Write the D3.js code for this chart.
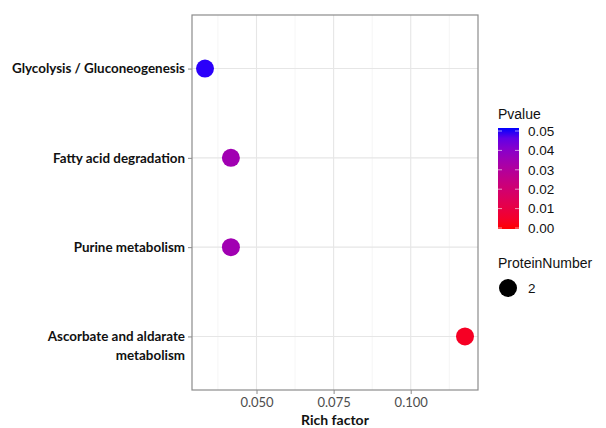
<!DOCTYPE html>
<html>
<head>
<meta charset="utf-8">
<script src="https://cdn.jsdelivr.net/npm/d3@7/dist/d3.min.js"></script>
<style>
  html, body { margin: 0; padding: 0; background: #fff; }
  svg { display: block; }
</style>
</head>
<body>
<svg id="chart" width="606" height="428"></svg>
<script>
// Enriched pathways: rich factor, p-value and protein count
const pathways = ["Glycolysis / Gluconeogenesis", "Fatty acid degradation", "Purine metabolism", "Ascorbate and aldarate metabolism"];
const richFactor = [0.0333, 0.0417, 0.0417, 0.1176];
const pValues = [0.049, 0.034, 0.034, 0.004];
const proteinNumber = [2, 2, 2, 2];
const xTicks = [0.050, 0.075, 0.100];
const xMinor = [0.0375, 0.0625, 0.0875, 0.1125];
const pTicks = [0.05, 0.04, 0.03, 0.02, 0.01, 0.00];

const svg = d3.select("#chart");
const panel = { left: 192, right: 478, top: 15, bottom: 390 };

// x: continuous with 5% padding on each side
const xMin = d3.min(richFactor), xMax = d3.max(richFactor);
const pad = (xMax - xMin) * 0.05;
const x = d3.scaleLinear().domain([xMin - pad, xMax + pad]).range([panel.left, panel.right]);

// y: discrete positions with 0.6 unit padding at each end
const n = pathways.length;
const yLin = d3.scaleLinear().domain([-0.6, n - 1 + 0.6]).range([panel.top, panel.bottom]);
const y = name => yLin(pathways.indexOf(name));

const colour = d3.scaleLinear().domain([0, 0.05]).range(["red", "blue"]).interpolate(d3.interpolateLab);
const size = d3.scaleSqrt().domain([0, 2]).range([0, 9]);

// panel background and grid
svg.append("rect").attr("x", panel.left).attr("y", panel.top)
  .attr("width", panel.right - panel.left).attr("height", panel.bottom - panel.top).attr("fill", "#fff");

const grid = svg.append("g");
grid.selectAll(".minor").data(xMinor).join("line")
  .attr("x1", d => x(d)).attr("x2", d => x(d))
  .attr("y1", panel.top).attr("y2", panel.bottom)
  .attr("stroke", "#f2f2f2").attr("stroke-width", 0.8);
grid.selectAll(".major").data(xTicks).join("line")
  .attr("x1", d => x(d)).attr("x2", d => x(d))
  .attr("y1", panel.top).attr("y2", panel.bottom)
  .attr("stroke", "#e6e6e6").attr("stroke-width", 1.1);
grid.selectAll(".hmajor").data(pathways).join("line")
  .attr("x1", panel.left).attr("x2", panel.right)
  .attr("y1", d => y(d)).attr("y2", d => y(d))
  .attr("stroke", "#e6e6e6").attr("stroke-width", 1.1);

// points
svg.append("g").selectAll("circle").data(pathways).join("circle")
  .attr("cx", (d, i) => x(richFactor[i]))
  .attr("cy", d => y(d))
  .attr("r", (d, i) => size(proteinNumber[i]))
  .attr("fill", (d, i) => colour(pValues[i]));

// panel border
svg.append("rect").attr("x", panel.left).attr("y", panel.top)
  .attr("width", panel.right - panel.left).attr("height", panel.bottom - panel.top)
  .attr("fill", "none").attr("stroke", "#8c8c8c").attr("stroke-width", 1.2);

// x axis
const xAxis = d3.axisBottom(x).tickValues(xTicks).tickFormat(d3.format(".3f")).tickSize(4).tickPadding(4);
const gx = svg.append("g").attr("transform", `translate(0,${panel.bottom})`).call(xAxis);
gx.select(".domain").remove();
gx.selectAll(".tick line").attr("stroke", "#8c8c8c");
gx.selectAll(".tick text").attr("fill", "#4d4d4d")
  .style("font-family", "Lato, 'Open Sans', sans-serif").style("font-size", "13px");

svg.append("text").attr("x", (panel.left + panel.right) / 2).attr("y", 425)
  .attr("text-anchor", "middle")
  .style("font-family", "Lato, 'Open Sans', sans-serif").style("font-weight", "bold").style("font-size", "14px")
  .attr("fill", "#111").text("Rich factor");

// y axis with wrapped labels
const yAxis = d3.axisLeft(yLin).tickValues(d3.range(n)).tickFormat(() => "").tickSize(4);
const gy = svg.append("g").attr("transform", `translate(${panel.left},0)`).call(yAxis);
gy.select(".domain").remove();
gy.selectAll(".tick line").attr("stroke", "#8c8c8c");

const wrapAt = 24;
function wrap(label) {
  if (label.length <= wrapAt + 6) return [label];
  const words = label.split(" ");
  const lines = [];
  let cur = "";
  words.forEach(w => {
    const t = cur ? cur + " " + w : w;
    if (t.length > wrapAt && cur) { lines.push(cur); cur = w; } else cur = t;
  });
  lines.push(cur);
  return lines;
}
const yLabels = svg.append("g");
pathways.forEach(p => {
  const lines = wrap(p);
  const t = yLabels.append("text")
    .attr("x", 185).attr("y", y(p))
    .attr("text-anchor", "end")
    .style("font-family", "Lato, 'Open Sans', sans-serif").style("font-weight", "bold").style("font-size", "13.4px")
    .attr("fill", "#111");
  lines.forEach((l, i) => {
    t.append("tspan").attr("x", 185).attr("dy", i === 0 ? "0.35em" : "1.4em").text(l);
  });
});

// colour legend
const legFont = "'Liberation Sans', Arial, sans-serif";
svg.append("text").attr("x", 498).attr("y", 119)
  .style("font-family", legFont).style("font-size", "14px").attr("fill", "#111").text("Pvalue");

const barTop = 128, barBottom = 229, barLeft = 498, barW = 21;
const defs = svg.append("defs");
const grad = defs.append("linearGradient").attr("id", "pgrad")
  .attr("x1", 0).attr("y1", 1).attr("x2", 0).attr("y2", 0);
d3.range(0, 1.0001, 0.1).forEach(t => {
  grad.append("stop").attr("offset", t).attr("stop-color", colour(t * 0.05));
});
svg.append("rect").attr("x", barLeft).attr("y", barTop).attr("width", barW)
  .attr("height", barBottom - barTop).attr("fill", "url(#pgrad)");

const pScale = d3.scaleLinear().domain([0, 0.05]).range([barBottom - 1, barTop + 3]);
const legTicks = svg.append("g");
pTicks.forEach(v => {
  legTicks.append("line").attr("x1", barLeft).attr("x2", barLeft + 4)
    .attr("y1", pScale(v)).attr("y2", pScale(v)).attr("stroke", "#fff").attr("stroke-opacity", 0.6);
  legTicks.append("line").attr("x1", barLeft + barW - 4).attr("x2", barLeft + barW)
    .attr("y1", pScale(v)).attr("y2", pScale(v)).attr("stroke", "#fff").attr("stroke-opacity", 0.6);
  legTicks.append("text").attr("x", 528).attr("y", pScale(v)).attr("dy", "0.35em")
    .style("font-family", legFont).style("font-size", "13.5px").attr("fill", "#111")
    .text(d3.format(".2f")(v));
});

// size legend
svg.append("text").attr("x", 498).attr("y", 268)
  .style("font-family", legFont).style("font-size", "14px").attr("fill", "#111").text("ProteinNumber");
const sizes = [...new Set(proteinNumber)];
sizes.forEach((s, i) => {
  svg.append("circle").attr("cx", 508).attr("cy", 288 + i * 22).attr("r", size(s)).attr("fill", "#000");
  svg.append("text").attr("x", 528).attr("y", 288 + i * 22).attr("dy", "0.35em")
    .style("font-family", legFont).style("font-size", "13.5px").attr("fill", "#111").text(s);
});
</script>
</body>
</html>
